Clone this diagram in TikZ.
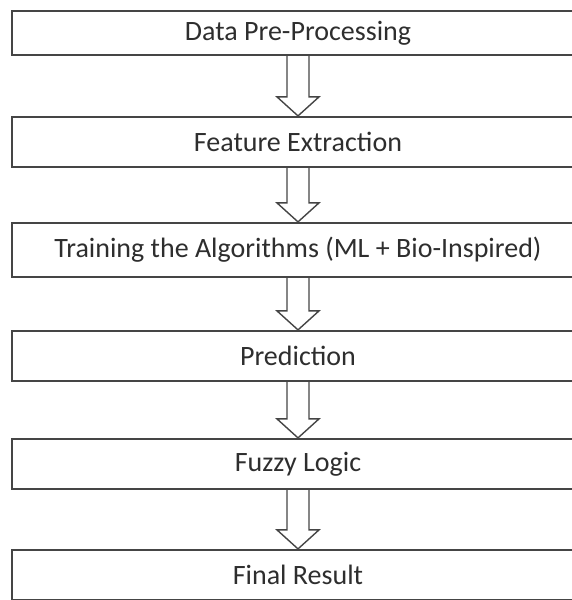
\documentclass[tikz,border=0pt]{standalone}
\usepackage{fontspec}
\setmainfont{Carlito}
\usetikzlibrary{calc}
\definecolor{lc}{HTML}{454545}
\definecolor{tc}{HTML}{2E2E2E}
\tikzset{
  stepbox/.style={draw=lc, line width=2.2pt, fill=white, minimum width=572pt, minimum height=50pt, inner sep=0pt, text=tc, font=\fontsize{28}{32}\selectfont},
  flowarrow/.style={draw=lc, line width=1.4pt, line join=miter}
}
\newcommand{\blockarrow}[2]{%
  \draw[flowarrow] ($(#1.south)+(-11,0)$) -- ($(#2.north)+(-11,-19)$) -- ($(#2.north)+(-21,-19)$) -- (#2.north) -- ($(#2.north)+(21,-19)$) -- ($(#2.north)+(11,-19)$) -- ($(#1.south)+(11,0)$);
}
\begin{document}
\begin{tikzpicture}[x=1pt,y=-1pt]
\useasboundingbox (0,0) rectangle (571,600);
\node[stepbox, minimum height=44pt] (b1) at (298,33) {Data Pre-Processing};
\node[stepbox] (b2) at (298,142) {Feature Extraction};
\node[stepbox, minimum height=54pt] (b3) at (298,250) {Training the Algorithms (ML + Bio-Inspired)};
\node[stepbox] (b4) at (298,356) {Prediction};
\node[stepbox] (b5) at (298,464) {Fuzzy Logic};
\node[stepbox] (b6) at (298,575) {Final Result};
\blockarrow{b1}{b2}
\blockarrow{b2}{b3}
\blockarrow{b3}{b4}
\blockarrow{b4}{b5}
\blockarrow{b5}{b6}
\end{tikzpicture}
\end{document}
